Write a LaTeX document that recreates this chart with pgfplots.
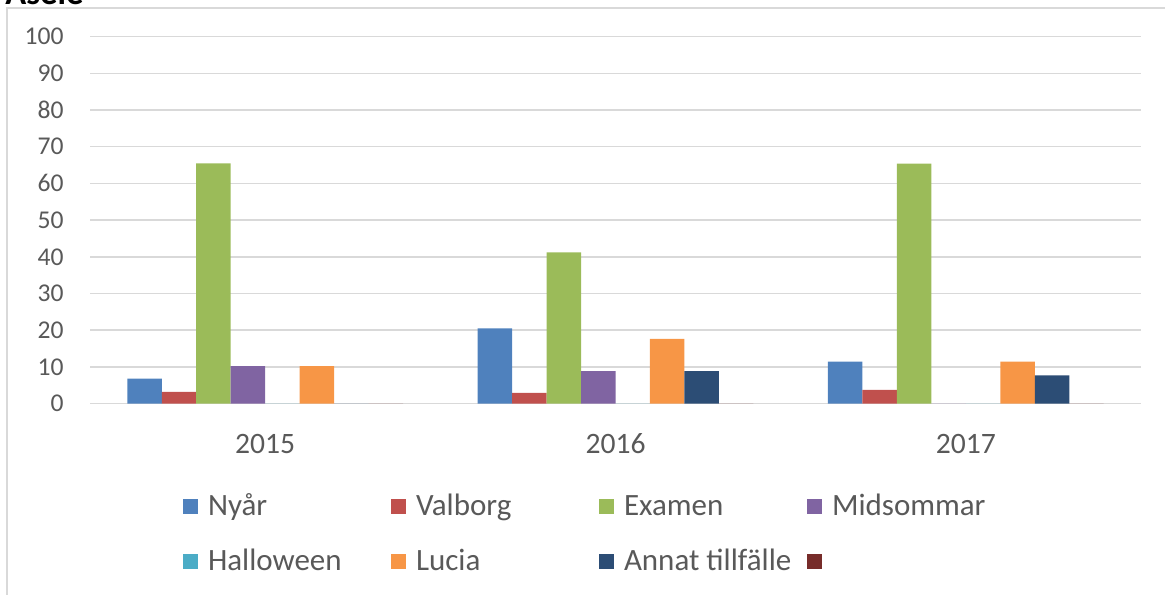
\documentclass[border=0pt]{standalone}
\usepackage{fontspec}
\setmainfont{Carlito}
\usepackage{pgfplots}
\pgfplotsset{compat=1.18}
\definecolor{cNyar}{HTML}{4F81BD}
\definecolor{cValborg}{HTML}{C0504D}
\definecolor{cExamen}{HTML}{9BBB59}
\definecolor{cMidsommar}{HTML}{8064A2}
\definecolor{cHalloween}{HTML}{4BACC6}
\definecolor{cLucia}{HTML}{F79646}
\definecolor{cAnnat}{HTML}{2C4D75}
\definecolor{cOther}{HTML}{772C2A}
\definecolor{gridc}{HTML}{D9D9D9}
\definecolor{txt}{HTML}{595959}
\begin{document}
\begin{tikzpicture}
\useasboundingbox (0,0) rectangle (582.5pt,-297pt);
\draw[gridc, line width=1pt] (3.4pt,-330pt) -- (3.4pt,-3.75pt) -- (620pt,-3.75pt);
\node[anchor=base west, inner sep=0pt, font=\bfseries\fontsize{17.3}{20}\selectfont] at (2.5pt,-2pt) {Åsele};
\begin{axis}[
 at={(45pt,-201.75pt)}, anchor=south west,
 scale only axis, width=525.5pt, height=183.4pt,
 ybar=0pt, bar width=0.0984,
 xmin=-0.5, xmax=2.5, ymin=0, ymax=100,
 xtick={0,1,2}, xticklabels={2015,2016,2017},
 ytick={0,10,...,100},
 ymajorgrids, grid style={gridc, line width=0.75pt},
 axis line style={draw=none},
 major tick length=0,
 tick label style={text=txt},
 /pgf/number format/assume math mode=true,
 yticklabel style={anchor=east, inner sep=0pt, xshift=-13pt, font=\fontsize{12.8}{15}\selectfont},
 xticklabel style={anchor=north, inner sep=0pt, yshift=-15pt, font=\fontsize{14.8}{17}\selectfont},
 legend columns=4,
 legend image code/.code={\path[#1,draw=none] (0pt,0.3pt) rectangle (7.5pt,7.8pt);},
 legend style={draw=none, fill=none, at={(0.0885,-0.244)}, anchor=north west, inner sep=0pt, outer sep=0pt, font=\fontsize{15.5}{18}\selectfont, text=txt, cells={anchor=base west}, nodes={inner sep=0pt, text height=11pt, text depth=4pt}, row sep=12.5pt, /tikz/every odd column/.append style={column sep=5pt}},
]
\addplot[fill=cNyar, draw=none] coordinates {(0,6.8) (1,20.5) (2,11.4)};
\addlegendentry{\makebox[91.5pt][l]{Nyår}}
\addplot[fill=cValborg, draw=none] coordinates {(0,3.2) (1,2.9) (2,3.7)};
\addlegendentry{\makebox[91.5pt][l]{Valborg}}
\addplot[fill=cExamen, draw=none] coordinates {(0,65.5) (1,41.2) (2,65.4)};
\addlegendentry{\makebox[91.5pt][l]{Examen}}
\addplot[fill=cMidsommar, draw=none] coordinates {(0,10.2) (1,8.8) (2,0)};
\addlegendentry{\makebox[91.5pt][l]{Midsommar}}
\addplot[fill=cHalloween, draw=none] coordinates {(0,0) (1,0) (2,0)};
\addlegendentry{\makebox[91.5pt][l]{Halloween}}
\addplot[fill=cLucia, draw=none] coordinates {(0,10.2) (1,17.6) (2,11.4)};
\addlegendentry{\makebox[91.5pt][l]{Lucia}}
\addplot[fill=cAnnat, draw=none] coordinates {(0,0) (1,8.8) (2,7.7)};
\addlegendentry{\makebox[91.5pt][l]{Annat tillfälle}}
\addplot[fill=cOther, draw=none] coordinates {(0,0) (1,0) (2,0)};
\addlegendentry{\makebox[91.5pt][l]{}}
\end{axis}
\end{tikzpicture}
\end{document}
